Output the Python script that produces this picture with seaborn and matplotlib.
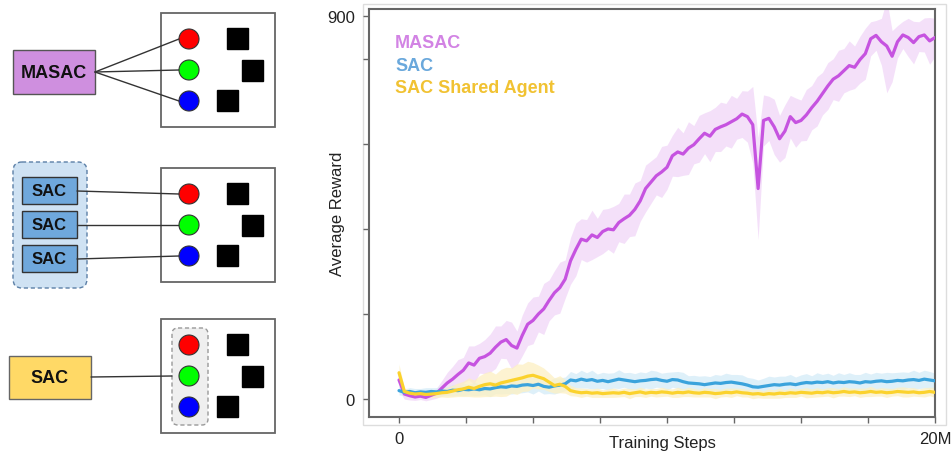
import numpy as np
import pandas as pd
import matplotlib
matplotlib.use('Agg')
import matplotlib.pyplot as plt
from matplotlib.patches import Rectangle, Circle, FancyBboxPatch
import seaborn as sns

# training steps in millions, one reading every 0.2M
steps = np.round(np.arange(0, 20.01, 0.2), 1)

masac_mean = [45, 12, 8, 5, 7, 4, 9, 14,
              26, 38, 47, 58, 68, 85, 80, 96,
              100, 108, 122, 134, 140, 126, 120, 150,
              176, 185, 200, 212, 232, 250, 262, 282,
              325, 352, 376, 372, 386, 380, 394, 400,
              398, 415, 424, 432, 446, 466, 495, 510,
              525, 534, 545, 572, 581, 576, 590, 598,
              612, 625, 618, 634, 640, 645, 652, 659,
              670, 664, 645, 495, 655, 660, 640, 612,
              630, 664, 650, 655, 668, 685, 700, 718,
              736, 752, 760, 772, 784, 780, 798, 812,
              847, 855, 840, 830, 806, 840, 856, 850,
              838, 852, 856, 842, 850]
masac_spread = [25, 12, 10, 8, 8, 8, 10, 12,
                18, 25, 30, 35, 30, 40, 45, 35,
                40, 45, 50, 38, 45, 55, 40, 48,
                50, 55, 42, 60, 48, 52, 60, 45,
                55, 62, 48, 50, 58, 45, 52, 48,
                55, 45, 58, 50, 62, 48, 55, 50,
                45, 60, 52, 48, 58, 50, 62, 45,
                55, 48, 60, 52, 58, 50, 62, 48,
                55, 60, 90, 120, 60, 52, 65, 55,
                62, 50, 58, 48, 60, 52, 58, 50,
                55, 48, 60, 52, 58, 50, 55, 60,
                40, 35, 55, 110, 60, 38, 32, 45,
                50, 35, 40, 55, 45]

sac_mean = [20, 16, 18, 15, 17, 16, 18, 17,
            19, 18, 21, 20, 23, 22, 24, 22,
            25, 24, 27, 29, 28, 31, 30, 33,
            34, 32, 35, 30, 28, 31, 33, 36,
            45, 43, 47, 44, 46, 42, 44, 41,
            44, 47, 45, 43, 41, 43, 44, 46,
            47, 44, 42, 46, 45, 41, 38, 37,
            36, 34, 36, 38, 37, 39, 40, 38,
            36, 33, 29, 28, 30, 32, 34, 33,
            35, 36, 34, 37, 39, 38, 40, 39,
            41, 38, 40, 39, 41, 40, 38, 41,
            40, 42, 43, 41, 42, 44, 43, 45,
            46, 44, 47, 45, 43]
sac_spread = [10, 8, 9, 10, 8, 11, 9, 10,
              12, 10, 14, 11, 15, 12, 16, 13,
              15, 18, 14, 17, 15, 19, 16, 18,
              17, 20, 16, 18, 15, 19, 17, 16,
              20, 17, 21, 18, 22, 17, 19, 20,
              18, 22, 17, 20, 19, 21, 18, 22,
              19, 17, 21, 18, 20, 22, 17, 19,
              18, 21, 17, 20, 19, 22, 18, 20,
              21, 18, 20, 17, 19, 22, 18, 21,
              19, 22, 18, 20, 21, 17, 22, 19,
              20, 18, 22, 19, 21, 18, 20, 22,
              19, 21, 18, 22, 20, 19, 21, 18,
              22, 19, 21, 20, 18]

shared_mean = [62, 18, 14, 12, 13, 11, 12, 13,
               15, 16, 19, 22, 24, 28, 25, 30,
               34, 36, 33, 38, 41, 44, 47, 50,
               54, 56, 52, 48, 40, 32, 35, 30,
               20, 17, 15, 16, 14, 15, 13, 14,
               15, 14, 16, 13, 15, 17, 14, 16,
               15, 17, 16, 14, 16, 15, 17, 15,
               14, 16, 15, 13, 14, 16, 15, 17,
               15, 14, 12, 13, 11, 13, 12, 14,
               13, 15, 14, 16, 15, 14, 16, 15,
               17, 15, 16, 18, 16, 17, 15, 16,
               18, 16, 17, 15, 16, 18, 17, 16,
               17, 15, 16, 18, 16]
shared_spread = [20, 8, 8, 7, 8, 7, 8, 9,
                 10, 12, 14, 16, 18, 22, 20, 25,
                 28, 30, 26, 32, 34, 30, 36, 32,
                 35, 30, 28, 25, 22, 18, 20, 16,
                 12, 10, 11, 9, 10, 11, 9, 10,
                 11, 9, 10, 12, 9, 11, 10, 9,
                 10, 11, 9, 10, 12, 9, 11, 10,
                 9, 11, 10, 12, 9, 10, 11, 9,
                 10, 9, 11, 10, 9, 11, 10, 12,
                 9, 11, 10, 9, 12, 10, 11, 9,
                 10, 12, 9, 11, 10, 9, 11, 10,
                 12, 9, 10, 11, 9, 10, 12, 11,
                 10, 9, 11, 10, 12]

series = [('MASAC', masac_mean, masac_spread, '#c653e0', '#f1d6f8', '#d283e4'),
          ('SAC', sac_mean, sac_spread, '#3ba3dc', '#d4ebf8', '#6aa8dc'),
          ('SAC Shared Agent', shared_mean, shared_spread, '#fbd22d', '#fdf0c2', '#f1c232')]

sns.set_style('white')
plt.rcParams['font.family'] = ['Liberation Sans', 'DejaVu Sans']

fig = plt.figure(figsize=(9.52, 4.56), dpi=100)

# overlay in pixel coordinates for the diagram on the left
dg = fig.add_axes([0, 0, 1, 1])
dg.set_xlim(0, 952)
dg.set_ylim(456, 0)
dg.axis('off')

# chart axes
ax = fig.add_axes([369 / 952, 1 - 418 / 456, 566 / 952, 408 / 456])

df = pd.DataFrame({'step': steps})
for name, mean, spread, line_c, band_c, text_c in series:
    m = np.array(mean, dtype=float)
    s = np.array(spread, dtype=float)
    ax.fill_between(steps, m - s, m + s, color=band_c, alpha=0.75, lw=0, zorder=1)
for name, mean, spread, line_c, band_c, text_c in series:
    df[name] = mean
    sns.lineplot(data=df, x='step', y=name, color=line_c, lw=2.3, ax=ax, zorder=3)

ax.set_xlim(-1.12, 20)
ax.set_ylim(-42, 917)
ax.set_xticks([0, 2.5, 5, 7.5, 10, 12.5, 15, 17.5, 20])
ax.set_xticklabels(['0', '', '', '', '', '', '', '', '20M'])
ax.set_yticks([0, 200, 400, 600, 800, 900])
ax.set_yticklabels(['0', '', '', '', '', '900'])
ax.tick_params(axis='both', direction='out', length=4, width=1, color='#666',
               labelsize=12, labelcolor='#222', pad=6, bottom=True, left=True)
for sp in ax.spines.values():
    sp.set_color('#666')
    sp.set_linewidth(1.5)
ax.set_xlabel('Training Steps', fontsize=12, color='#222')
ax.set_ylabel('Average Reward', fontsize=12, color='#222')
ax.xaxis.set_label_coords(0.518, -0.045)
ax.yaxis.set_label_coords(-0.042, 0.5)

leg_y = [0.918, 0.862, 0.808]
for (name, mean, spread, line_c, band_c, text_c), ly in zip(series, leg_y):
    ax.text(0.046, ly, name, transform=ax.transAxes, fontsize=13, fontweight='bold',
            color=text_c, va='center', ha='left')

# light frame around the chart
dg.add_patch(Rectangle((363, 5), 583, 421, fill=False, ec='#dddddd', lw=1))


def env_box(top):
    dg.add_patch(Rectangle((161, top), 114, 114, fc='white', ec='#666', lw=1.3, zorder=2))
    for cy, col in zip([26, 57, 88], ['#ff0000', '#00ff00', '#0000ff']):
        dg.add_patch(Circle((189, top + cy), 10, fc=col, ec='#333', lw=0.8, zorder=5))
    for sx, sy in [(227, 15), (242, 47), (217, 77)]:
        dg.add_patch(Rectangle((sx, top + sy), 21, 21, fc='black', ec='black', zorder=4))


# row 1: MASAC
dg.add_patch(Rectangle((13, 51), 82, 44, fc='#cf8fdf', ec='#555', lw=1, zorder=3))
dg.text(54, 73, 'MASAC', fontsize=13, fontweight='bold', ha='center', va='center', color='#111', zorder=4)
env_box(14)
for cy in [40, 71, 102]:
    dg.plot([95, 179], [73, cy], color='#333', lw=1, zorder=3)

# row 2: independent SAC agents
dg.add_patch(FancyBboxPatch((13, 163), 74, 126, boxstyle='round,pad=0,rounding_size=9',
                            fc='#cfe2f3', ec='#5b7fa6', lw=1, ls=(0, (3, 2)), zorder=2))
env_box(169)
for top, cy in zip([178, 212, 246], [195, 226, 257]):
    dg.add_patch(Rectangle((22, top), 55, 27, fc='#6fa8dc', ec='#333', lw=1, zorder=3))
    dg.text(49.5, top + 14, 'SAC', fontsize=12, fontweight='bold', ha='center', va='center', color='#111', zorder=4)
    dg.plot([77, 179], [top + 14, cy], color='#333', lw=1, zorder=3)

# row 3: shared SAC agent
dg.add_patch(Rectangle((9, 357), 82, 43, fc='#ffd966', ec='#666', lw=1, zorder=3))
dg.text(50, 378.5, 'SAC', fontsize=13, fontweight='bold', ha='center', va='center', color='#111', zorder=4)
env_box(320)
dg.add_patch(FancyBboxPatch((172, 329), 36, 97, boxstyle='round,pad=0,rounding_size=6',
                            fc='#efefef', ec='#999', lw=1, ls=(0, (3, 2)), zorder=3))
dg.plot([91, 172], [378, 377], color='#333', lw=1, zorder=3)

fig.savefig('out.png', dpi=100)
